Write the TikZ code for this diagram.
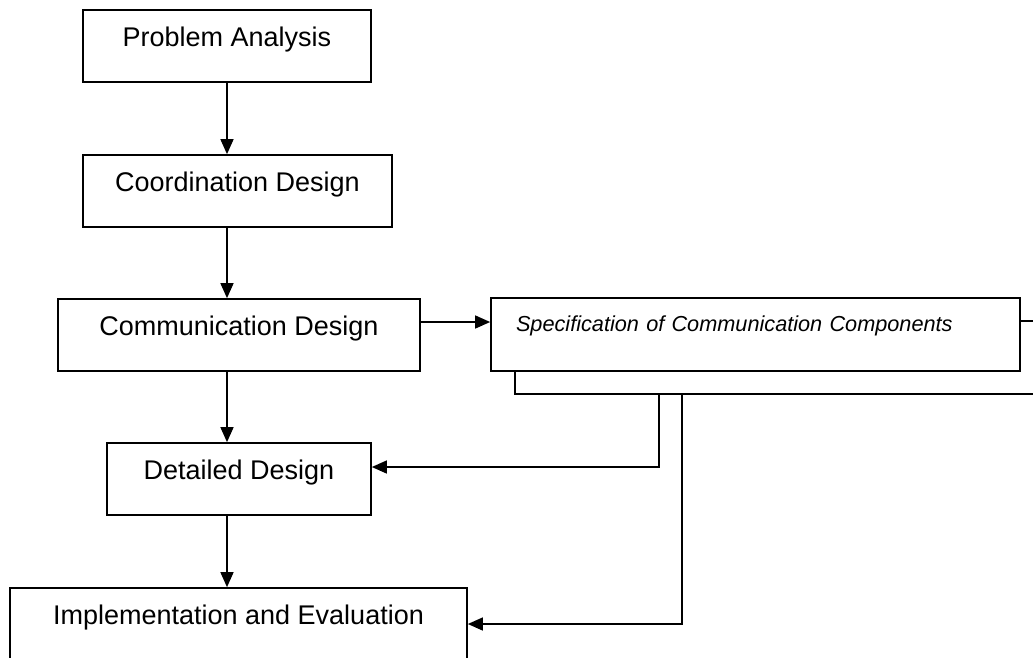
\documentclass[tikz,border=0pt]{standalone}
\usepackage{fontspec}
\setmainfont{Liberation Sans}
\usetikzlibrary{arrows.meta,shadows}

\begin{document}
\begin{tikzpicture}[x=1pt,y=-1pt,>={Triangle[length=15pt,width=13pt]},
font=\fontsize{27}{32}\selectfont]
\tikzstyle{box}=[draw=black,line width=1.7pt,minimum height=72pt,inner sep=0pt,text height=19pt,text depth=19pt]
\tikzstyle{link}=[->,draw=black,line width=1.5pt]

\useasboundingbox (0,0) rectangle (1033,657);
\clip (0,0) rectangle (1033,657);

\node[box,minimum width=288pt]	(prob)   at (227,46)    {Problem Analysis};
\node[box,minimum width=309pt]	(coord)  at (237.5,191) {Coordination Design};
\node[box,minimum width=362pt]	(comm)   at (239,335)   {Communication Design};
\node[box,minimum width=264pt]	(detail) at (239,479)   {Detailed Design};
\node[box,minimum width=457pt]	(impl)   at (238.5,624) {Implementation and Evaluation};

% stacked box on the right
\node[box,fill=white,copy shadow={shadow xshift=24pt,shadow yshift=-23pt},
minimum width=529pt,minimum height=73pt,text width=479pt,inner xsep=25pt,align=left,
text height=15pt,text depth=22pt,font=\fontsize{21.7}{26}\selectfont\itshape]
(spec) at (755.5,334.5) {Specification of Communication Components};

\path
(prob.south)                edge[link] (prob.south |- coord.north)
(coord.south -| prob.south) edge[link] (prob.south |- comm.north)
(comm.south -| prob.south)  edge[link] (prob.south |- detail.north)
(detail.south -| prob.south) edge[link] (prob.south |- impl.north);

\draw[link] ([yshift=13pt]comm.east) -- ([yshift=13pt]comm.east -| spec.west);
\draw[link] ([xshift=-96.5pt,yshift=-23pt]spec.south) |- ([yshift=12pt]detail.east);
\draw[link] ([xshift=-73.5pt,yshift=-23pt]spec.south) |- (impl.east);
\end{tikzpicture}
\end{document}
